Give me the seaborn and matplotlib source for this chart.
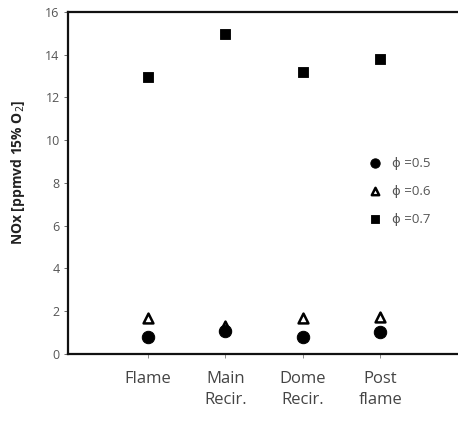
import matplotlib
matplotlib.use("Agg")
import matplotlib.pyplot as plt
import seaborn as sns
import pandas as pd

# data
locations = ["Flame", "Main\nRecir.", "Dome\nRecir.", "Post\nflame"]
nox_phi05 = [0.8, 1.1, 0.8, 1.05]
nox_phi06 = [1.68, 1.3, 1.7, 1.75]
nox_phi07 = [12.95, 14.95, 13.2, 13.8]
y_ticks = [0, 2, 4, 6, 8, 10, 12, 14, 16]

df = pd.DataFrame({"x": range(len(locations)),
                   "p05": nox_phi05, "p06": nox_phi06, "p07": nox_phi07})

sns.set_theme(style="white")
plt.rcParams['font.family'] = ['Open Sans', 'DejaVu Sans']

fig = plt.figure(figsize=(4.58, 4.25), dpi=100)
ax = fig.add_axes([0.1485, 0.167, 0.8515, 0.805])

sns.scatterplot(data=df, x="x", y="p06", ax=ax, marker="^", s=50,
                facecolor="white", edgecolor="black", linewidth=1.8,
                label="ϕ =0.6", zorder=3)
sns.scatterplot(data=df, x="x", y="p05", ax=ax, marker="o", s=80,
                color="black", edgecolor="black", label="ϕ =0.5", zorder=4)
sns.scatterplot(data=df, x="x", y="p07", ax=ax, marker="s", s=60,
                color="black", edgecolor="black", label="ϕ =0.7", zorder=4)

ax.set_xlim(-1.03, 4.0)
ax.set_ylim(0, 16)
ax.set_yticks(y_ticks)
ax.set_xticks(range(len(locations)))
ax.set_xticklabels(locations, fontsize=12, color="#444444", linespacing=1.45)
ax.tick_params(axis="y", labelsize=9, colors="#555555", length=3, width=0.6,
               direction="out", left=True, pad=3)
ax.tick_params(axis="x", length=3, width=0.6, direction="out", bottom=True,
               colors="#777777", pad=9)
for lbl in ax.get_xticklabels():
    lbl.set_color("#444444")
for lbl in ax.get_yticklabels():
    lbl.set_color("#555555")

ax.set_xlabel("")
ax.set_ylabel("NOx [ppmvd 15% O$_2$]", fontsize=10, fontweight="bold",
              color="#222222")
ax.yaxis.set_label_coords(-0.105, 0.53)

for side in ["left", "top", "bottom"]:
    ax.spines[side].set_color("#111111")
    ax.spines[side].set_linewidth(1.6)
ax.spines["right"].set_visible(False)

handles, labels = ax.get_legend_handles_labels()
order = [1, 0, 2]
ax.legend([handles[i] for i in order], [labels[i] for i in order],
          loc="upper left", bbox_to_anchor=(0.722, 0.612), frameon=False,
          fontsize=9.5, labelspacing=1.15, handletextpad=0.3,
          labelcolor="#555555", markerscale=0.75)

fig.savefig("out.png", dpi=100)
